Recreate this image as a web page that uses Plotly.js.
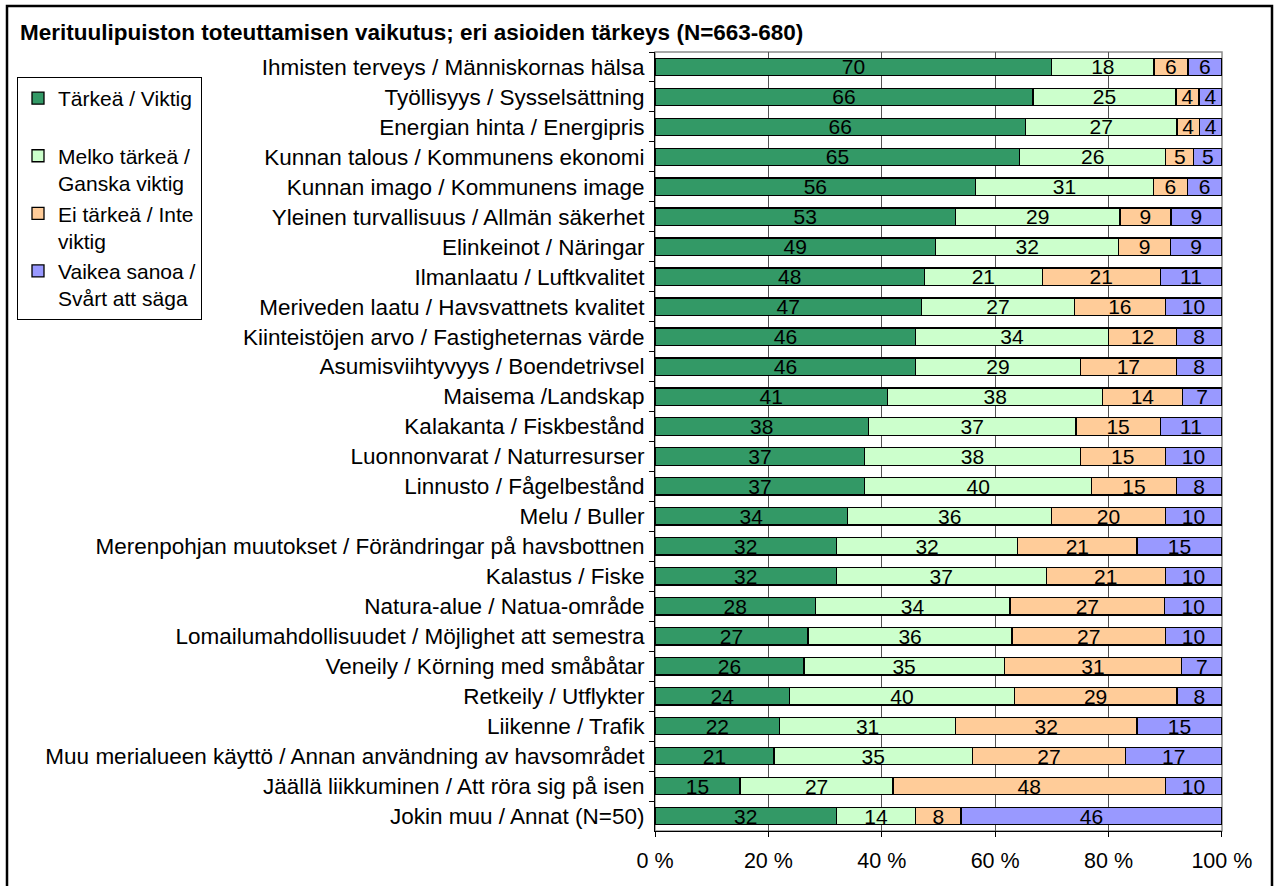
<!DOCTYPE html>
<html>
<head>
<meta charset="utf-8">
<script src="https://cdn.plot.ly/plotly-3.0.1.min.js"></script>
<style>
  html, body { margin: 0; padding: 0; background: #ffffff; }
  #chart { width: 1279px; height: 886px; }
</style>
</head>
<body>
<div id="chart"></div>
<script>
const categories = [
  "Ihmisten terveys / Människornas hälsa",
  "Työllisyys / Sysselsättning",
  "Energian hinta / Energipris",
  "Kunnan talous / Kommunens ekonomi",
  "Kunnan imago / Kommunens image",
  "Yleinen turvallisuus / Allmän säkerhet",
  "Elinkeinot / Näringar",
  "Ilmanlaatu / Luftkvalitet",
  "Meriveden laatu / Havsvattnets kvalitet",
  "Kiinteistöjen arvo / Fastigheternas värde",
  "Asumisviihtyvyys / Boendetrivsel",
  "Maisema /Landskap",
  "Kalakanta / Fiskbestånd",
  "Luonnonvarat / Naturresurser",
  "Linnusto / Fågelbestånd",
  "Melu / Buller",
  "Merenpohjan muutokset / Förändringar på havsbottnen",
  "Kalastus / Fiske",
  "Natura-alue / Natua-område",
  "Lomailumahdollisuudet / Möjlighet att semestra",
  "Veneily / Körning med småbåtar",
  "Retkeily / Utflykter",
  "Liikenne / Trafik",
  "Muu merialueen käyttö / Annan användning av havsområdet",
  "Jäällä liikkuminen / Att röra sig på isen",
  "Jokin muu / Annat (N=50)"
];

const tarkea      = [70, 66, 66, 65, 56, 53, 49, 48, 47, 46, 46, 41, 38, 37, 37, 34, 32, 32, 28, 27, 26, 24, 22, 21, 15, 32];
const melkoTarkea = [18, 25, 27, 26, 31, 29, 32, 21, 27, 34, 29, 38, 37, 38, 40, 36, 32, 37, 34, 36, 35, 40, 31, 35, 27, 14];
const eiTarkea    = [ 6,  4,  4,  5,  6,  9,  9, 21, 16, 12, 17, 14, 15, 15, 15, 20, 21, 21, 27, 27, 31, 29, 32, 27, 48,  8];
const vaikeaSanoa = [ 6,  4,  4,  5,  6,  9,  9, 11, 10,  8,  8,  7, 11, 10,  8, 10, 15, 10, 10, 10,  7,  8, 15, 17, 10, 46];

const seriesNames = [
  "Tärkeä / Viktig<br> ",
  "Melko tärkeä /<br>Ganska viktig",
  "Ei tärkeä / Inte<br>viktig",
  "Vaikea sanoa /<br>Svårt att säga"
];
const xTickVals = [0, 20, 40, 60, 80, 100];
const xTickText = ["0 %", "20 %", "40 %", "60 %", "80 %", "100 %"];

const colors = ["#339966", "#CCFFCC", "#FFCC99", "#9999FF"];
const FONT = "Liberation Sans, Arial, Helvetica, sans-serif";

const seriesValues = [tarkea, melkoTarkea, eiTarkea, vaikeaSanoa];
const traces = seriesValues.map((vals, i) => ({
  type: "bar",
  orientation: "h",
  name: seriesNames[i],
  legendgroup: "g" + i,
  y: categories,
  x: vals,
  text: vals.map(String),
  texttemplate: "%{text}",
  textposition: "inside",
  insidetextanchor: "middle",
  textangle: 0,
  constraintext: "none",
  cliponaxis: false,
  textfont: { family: FONT, size: 21, color: "#000000" },
  marker: { color: colors[i], line: { color: "#000000", width: 1.3 } },
  hoverinfo: "skip"
}));

// plot area: x 655..1222, y 52..831
const L = 655, R = 1222, T = 52, B = 831, W = 1279, H = 886;
const pw = R - L, ph = B - T;
const px = v => (v - L) / pw;
const py = v => 1 - (v - T) / ph;

const layout = {
  width: W,
  height: H,
  margin: { l: L, r: W - R, t: T, b: H - B, pad: 0 },
  paper_bgcolor: "#ffffff",
  plot_bgcolor: "#ffffff",
  barmode: "stack",
  barnorm: "percent",
  bargap: 0.42,
  font: { family: FONT, size: 21, color: "#000000" },
  title: {
    text: "<b>Merituulipuiston toteuttamisen vaikutus; eri asioiden tärkeys (N=663-680)</b>",
    font: { family: FONT, size: 22.5, color: "#000000" },
    xref: "container", yref: "container",
    x: 20 / W, xanchor: "left",
    y: 1 - 32 / H, yanchor: "middle"
  },
  xaxis: {
    range: [0, 100.02],
    tickvals: xTickVals,
    ticktext: xTickText,
    ticks: "outside",
    ticklen: 5,
    tickcolor: "#000000",
    showline: true,
    linecolor: "#000000",
    linewidth: 1,
    showgrid: true,
    gridcolor: "#555555",
    gridwidth: 1,
    zeroline: false,
    ticklabelstandoff: 5,
    tickfont: { family: FONT, size: 21.5, color: "#000000" },
    fixedrange: true
  },
  yaxis: {
    type: "category",
    autorange: "reversed",
    ticks: "outside",
    tickson: "boundaries",
    ticklen: 5,
    tickcolor: "#000000",
    showline: true,
    linecolor: "#000000",
    linewidth: 1,
    showgrid: false,
    zeroline: false,
    ticklabelstandoff: 5,
    tickfont: { family: FONT, size: 22.5, color: "#000000" },
    fixedrange: true
  },
  legend: {
    x: px(17), xanchor: "left",
    y: py(77), yanchor: "top",
    bordercolor: "#000000",
    borderwidth: 1,
    bgcolor: "#ffffff",
    font: { family: FONT, size: 21, color: "#000000" },
    valign: "top",
    tracegroupgap: 10,
    traceorder: "normal",
    itemclick: false,
    itemdoubleclick: false
  },
  shapes: [
    {
      type: "rect", xref: "paper", yref: "paper",
      x0: 0, x1: 1, y0: 0, y1: 1,
      line: { color: "#8c8c8c", width: 1.5 },
      layer: "below"
    },
    {
      type: "rect", xref: "paper", yref: "paper",
      x0: px(7), x1: px(1272), y0: py(895), y1: py(6),
      line: { color: "#000000", width: 2.5 },
      layer: "below"
    }
  ],
  showlegend: true
};

Plotly.newPlot("chart", traces, layout, { displayModeBar: false, staticPlot: true });
</script>
</body>
</html>
